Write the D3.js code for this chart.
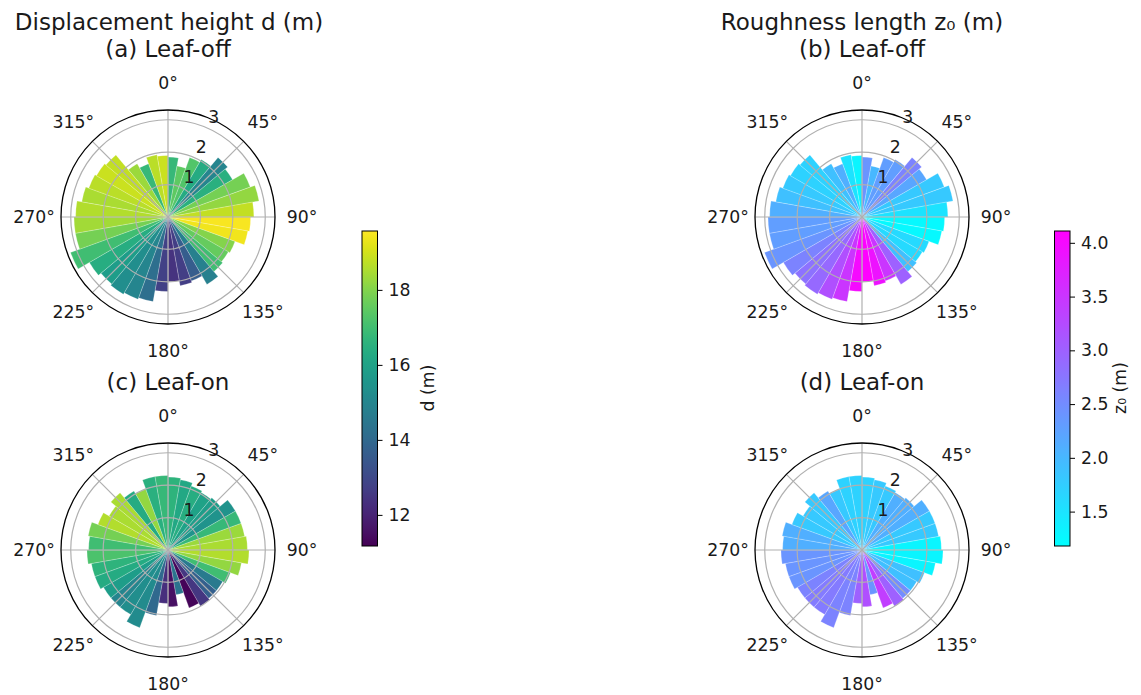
<!DOCTYPE html>
<html>
<head>
<meta charset="utf-8">
<script src="https://cdn.jsdelivr.net/npm/d3@7"></script>
<style>
  body { margin: 0; background: #fff; }
  svg { display: block; }
  text { font-family: "DejaVu Sans", sans-serif; fill: #1a1a1a; }
</style>
</head>
<body>
<svg id="chart" width="1141" height="695"></svg>
<script>
// wind direction bins (start angle, degrees clockwise from north), 10 degrees wide
const dirBins = [0, 10, 20, 30, 40, 50, 60, 70, 80, 90, 100, 110, 120, 130, 140, 150, 160, 170,
                 180, 190, 200, 210, 220, 230, 240, 250, 260, 270, 280, 290, 300, 310, 320, 330, 340, 350];

// bar lengths (radial axis)
const rLeafOff = [1.85, 1.6, 1.95, 2.05, 2.4, 2.3, 2.7, 2.85, 2.65, 2.55, 2.5, 2.2, 2.15, 2.2, 2.4, 2.1, 2.15, 2.0,
                  2.3, 2.65, 2.7, 2.75, 2.7, 2.8, 3.2, 2.9, 2.9, 2.85, 2.7, 2.6, 2.55, 2.5, 1.9, 1.75, 1.95, 1.9];
const rLeafOn  = [2.25, 2.2, 2.1, 2.05, 2.1, 2.4, 2.4, 2.4, 2.45, 2.5, 2.3, 2.05, 1.95, 1.95, 2.0, 1.9, 1.4, 1.75,
                  1.65, 2.05, 2.55, 2.3, 2.3, 2.3, 2.4, 2.4, 2.5, 2.45, 2.5, 2.3, 2.1, 2.3, 2.1, 2.0, 2.3, 2.3];

// displacement height d (m)
const dLeafOff = [16.8, 17.5, 17.3, 16.3, 15.0, 16.5, 17.8, 18.2, 18.8, 19.5, 19.4, 18.0, 17.6, 17.0, 14.8, 13.6, 12.7, 12.4,
                  12.8, 14.2, 15.0, 15.3, 15.8, 16.4, 17.0, 17.8, 18.4, 18.6, 18.5, 18.7, 18.9, 18.8, 18.3, 16.8, 18.7, 18.9];
const dLeafOn  = [16.6, 16.2, 16.4, 16.0, 15.8, 15.5, 16.8, 18.3, 18.5, 18.6, 18.2, 17.0, 14.6, 13.7, 12.5, 11.3, 14.4, 11.5,
                  12.3, 14.0, 15.2, 15.3, 15.0, 15.8, 16.3, 16.6, 17.2, 17.0, 17.8, 18.6, 18.5, 18.5, 16.3, 18.2, 16.5, 16.8];

// roughness length z0 (m)
const z0LeafOff = [2.4, 2.0, 2.3, 2.3, 2.6, 2.2, 1.8, 1.8, 1.5, 1.25, 1.25, 1.6, 1.6, 1.9, 3.0, 3.5, 3.9, 4.1,
                   4.0, 3.5, 3.2, 2.9, 2.8, 2.6, 2.4, 2.3, 2.3, 2.1, 1.9, 1.8, 1.7, 1.7, 1.9, 2.1, 1.5, 1.3];
const z0LeafOn  = [1.7, 1.8, 1.8, 2.1, 2.1, 2.1, 1.8, 1.8, 1.3, 1.3, 1.3, 1.9, 1.9, 2.5, 3.0, 3.4, 2.4, 3.2,
                   3.0, 2.6, 2.6, 2.7, 2.7, 2.6, 2.4, 2.4, 2.4, 2.1, 2.1, 1.8, 1.8, 1.8, 2.2, 1.8, 1.7, 1.7];

const thetaTicks = [0, 45, 90, 135, 180, 225, 270, 315];
const rTicks = [1, 2, 3];
const dTicks = [12, 14, 16, 18];
const z0Ticks = [1.5, 2.0, 2.5, 3.0, 3.5, 4.0];

const svg = d3.select("#chart");

const R = 107;
const angle = d3.scaleLinear().domain([0, 360]).range([0, 2 * Math.PI]);
const radius = d3.scaleLinear().domain([0, 3.3]).range([0, R]);

const dDomain = [11.17, 19.57];
const z0Domain = [1.18, 4.11];
// matplotlib "cool": cyan -> magenta
const coolInterp = t => d3.rgb(255 * t, 255 * (1 - t), 255).formatHex();
const colorD = d3.scaleSequential(d3.interpolateViridis).domain(dDomain);
const colorZ = d3.scaleSequential(coolInterp).domain(z0Domain);

const panels = [
  { cx: 168, cy: 217, label: "(a) Leaf-off", r: rLeafOff, v: dLeafOff, color: colorD },
  { cx: 168, cy: 550, label: "(c) Leaf-on",  r: rLeafOn,  v: dLeafOn,  color: colorD },
  { cx: 862, cy: 217, label: "(b) Leaf-off", r: rLeafOff, v: z0LeafOff, color: colorZ },
  { cx: 862, cy: 550, label: "(d) Leaf-on",  r: rLeafOn,  v: z0LeafOn,  color: colorZ }
];

const arc = d3.arc().innerRadius(0);

panels.forEach(p => {
  const g = svg.append("g").attr("transform", `translate(${p.cx},${p.cy})`);

  // bars
  g.selectAll("path.bar")
    .data(dirBins.map((a, i) => ({ a, r: p.r[i], v: p.v[i] })))
    .enter()
    .append("path")
    .attr("class", "bar")
    .attr("d", d => arc({ outerRadius: radius(d.r), startAngle: angle(d.a), endAngle: angle(d.a + 10) }))
    .attr("fill", d => p.color(d.v))
    .attr("stroke", "#fff")
    .attr("stroke-opacity", 0.45)
    .attr("stroke-width", 0.5);

  // grid circles
  g.selectAll("circle.grid")
    .data(rTicks)
    .enter()
    .append("circle")
    .attr("r", d => radius(d))
    .attr("fill", "none")
    .attr("stroke", "#b0b0b0")
    .attr("stroke-width", 1.2);

  // grid spokes
  g.selectAll("line.spoke")
    .data(thetaTicks)
    .enter()
    .append("line")
    .attr("x1", 0).attr("y1", 0)
    .attr("x2", d => R * Math.sin(angle(d)))
    .attr("y2", d => -R * Math.cos(angle(d)))
    .attr("stroke", "#b0b0b0")
    .attr("stroke-width", 1.2);

  // outer frame
  g.append("circle")
    .attr("r", R)
    .attr("fill", "none")
    .attr("stroke", "#000")
    .attr("stroke-width", 1.3);

  // radial tick labels along 22.5 degrees
  const rl = angle(22.5);
  g.selectAll("text.rtick")
    .data(rTicks)
    .enter()
    .append("text")
    .attr("x", d => radius(d) * Math.sin(rl) + 3)
    .attr("y", d => -radius(d) * Math.cos(rl) - 4)
    .attr("font-size", "17.3px")
    .text(d => d);

  // angle tick labels
  g.selectAll("text.ttick")
    .data(thetaTicks)
    .enter()
    .append("text")
    .attr("x", d => 134 * Math.sin(angle(d)))
    .attr("y", d => -134 * Math.cos(angle(d)))
    .attr("text-anchor", "middle")
    .attr("dominant-baseline", "central")
    .attr("font-size", "17.3px")
    .text(d => d + "°");

  // subplot title
  g.append("text")
    .attr("x", 0)
    .attr("y", -160)
    .attr("text-anchor", "middle")
    .attr("font-size", "23px")
    .text(p.label);
});

// column titles
svg.append("text").attr("x", 169).attr("y", 30).attr("text-anchor", "middle")
  .attr("font-size", "23px").text("Displacement height d (m)");
svg.append("text").attr("x", 862).attr("y", 30).attr("text-anchor", "middle")
  .attr("font-size", "23px").text("Roughness length z₀ (m)");

// colorbars
function colorbar(id, x, scale, ticks, fmt, label, labelX) {
  const y = d3.scaleLinear().domain(scale.domain()).range([546, 231]);
  const grad = svg.append("defs").append("linearGradient")
    .attr("id", id).attr("x1", 0).attr("y1", 1).attr("x2", 0).attr("y2", 0);
  d3.range(0, 1.0001, 0.02).forEach(t => {
    const v = scale.domain()[0] + t * (scale.domain()[1] - scale.domain()[0]);
    grad.append("stop").attr("offset", t).attr("stop-color", scale(v));
  });
  const w = 15.5;
  svg.append("rect")
    .attr("x", x).attr("y", 231).attr("width", w).attr("height", 315)
    .attr("fill", `url(#${id})`)
    .attr("stroke", "#000").attr("stroke-width", 1);
  const axis = d3.axisRight(y).tickValues(ticks).tickFormat(fmt).tickSize(5).tickPadding(6);
  const ag = svg.append("g").attr("transform", `translate(${x + w},0)`).call(axis);
  ag.select(".domain").remove();
  ag.selectAll("text").attr("font-size", "17.3px").attr("font-family", "DejaVu Sans, sans-serif").attr("fill", "#1a1a1a");
  ag.selectAll("line").attr("stroke", "#000").attr("stroke-width", 1);
  svg.append("text")
    .attr("transform", `translate(${labelX},388) rotate(-90)`)
    .attr("text-anchor", "middle")
    .attr("dominant-baseline", "central")
    .attr("font-size", "17.3px")
    .text(label);
}

colorbar("gradD", 362, colorD, dTicks, d3.format("d"), "d (m)", 428);
colorbar("gradZ", 1054.5, colorZ, z0Ticks, d3.format(".1f"), "z₀ (m)", 1120);
</script>
</body>
</html>
